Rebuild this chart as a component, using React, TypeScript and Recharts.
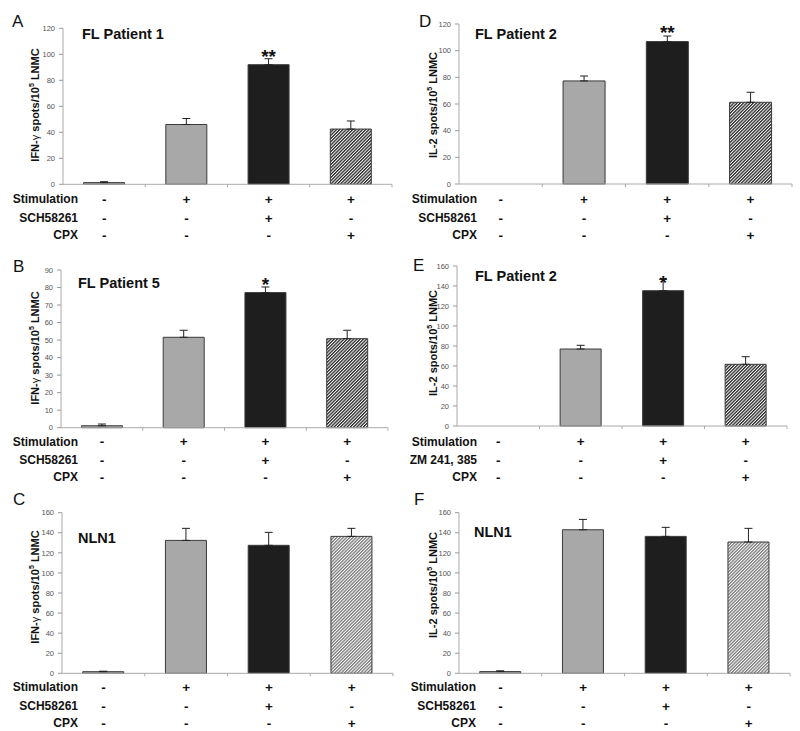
import React from 'react';
import { BarChart, Bar, XAxis, YAxis, ErrorBar, Cell, LabelList } from 'recharts';

// ---- data ----
const categories = ['Control', 'Stim', 'Stim + antagonist', 'Stim + CPX'];
const stimulationRow = ['-', '+', '+', '+'];
const sch58261Row = ['-', '-', '+', '-'];
const zmRow = ['-', '-', '+', '-'];
const cpxRow = ['-', '-', '-', '+'];
const rowLabelsSCH = ['Stimulation', 'SCH58261', 'CPX'];
const rowLabelsZM = ['Stimulation', 'ZM 241, 385', 'CPX'];

const valuesA = [1.3, 46, 92, 42.5];
const errorsA = [0.7, 4.6, 4.6, 6.2];
const starsA = ['', '', '**', ''];
const ticksA = [0, 20, 40, 60, 80, 100, 120];

const valuesB = [1.1, 51.6, 77.1, 50.8];
const errorsB = [1.0, 4.0, 3.2, 4.8];
const starsB = ['', '', '*', ''];
const ticksB = [0, 10, 20, 30, 40, 50, 60, 70, 80, 90];

const valuesC = [1.6, 132.4, 127.5, 136.4];
const errorsC = [0.5, 12, 12.9, 8];
const starsC = ['', '', '', ''];
const ticksC = [0, 20, 40, 60, 80, 100, 120, 140, 160];

const valuesD = [0, 77.3, 106.8, 61.3];
const errorsD = [0, 3.7, 4.2, 7.5];
const starsD = ['', '', '**', ''];
const ticksD = [0, 20, 40, 60, 80, 100, 120];

const valuesE = [0, 77, 135.3, 61.7];
const errorsE = [0, 3.7, 11.4, 7.6];
const starsE = ['', '', '*', ''];
const ticksE = [0, 20, 40, 60, 80, 100, 120, 140, 160];

const valuesF = [1.7, 143, 136.4, 130.8];
const errorsF = [0.8, 10.3, 9, 13.6];
const starsF = ['', '', '', ''];
const ticksF = [0, 20, 40, 60, 80, 100, 120, 140, 160];

const FONT = '"Liberation Sans", Arial, sans-serif';

type PanelCfg = {
  id: string;
  left: number; top: number; w: number; h: number;
  axisX: number; right: number; yTop: number; y0: number;
  values: number[]; errors: number[]; stars: string[]; ticks: number[];
  rows: string[][]; rowLabels: string[]; rowOffsets: number[]; labelRight: number;
  stripe: string;
};

const panels: PanelCfg[] = [
  { id: 'A', left: 0, top: 0, w: 400, h: 250, axisX: 63, right: 392, yTop: 28.3, y0: 184.3,
    values: valuesA, errors: errorsA, stars: starsA, ticks: ticksA,
    rows: [stimulationRow, sch58261Row, cpxRow], rowLabels: rowLabelsSCH, rowOffsets: [15, 34, 51], labelRight: 78, stripe: '#262626' },
  { id: 'B', left: 0, top: 243, w: 400, h: 250, axisX: 61, right: 388, yTop: 27, y0: 184.7,
    values: valuesB, errors: errorsB, stars: starsB, ticks: ticksB,
    rows: [stimulationRow, sch58261Row, cpxRow], rowLabels: rowLabelsSCH, rowOffsets: [14, 32.5, 49.5], labelRight: 78, stripe: '#262626' },
  { id: 'C', left: 0, top: 483, w: 400, h: 248, axisX: 62, right: 393, yTop: 29.7, y0: 190.3,
    values: valuesC, errors: errorsC, stars: starsC, ticks: ticksC,
    rows: [stimulationRow, sch58261Row, cpxRow], rowLabels: rowLabelsSCH, rowOffsets: [14, 33, 50], labelRight: 78, stripe: '#7a7a7a' },
  { id: 'D', left: 400, top: 0, w: 400, h: 250, axisX: 59, right: 392, yTop: 24, y0: 184,
    values: valuesD, errors: errorsD, stars: starsD, ticks: ticksD,
    rows: [stimulationRow, sch58261Row, cpxRow], rowLabels: rowLabelsSCH, rowOffsets: [15, 34, 51], labelRight: 77, stripe: '#262626' },
  { id: 'E', left: 400, top: 243, w: 400, h: 250, axisX: 57, right: 387, yTop: 23, y0: 183,
    values: valuesE, errors: errorsE, stars: starsE, ticks: ticksE,
    rows: [stimulationRow, zmRow, cpxRow], rowLabels: rowLabelsZM, rowOffsets: [15.5, 34, 51], labelRight: 77, stripe: '#262626' },
  { id: 'F', left: 400, top: 483, w: 400, h: 248, axisX: 59, right: 390, yTop: 29.7, y0: 190.3,
    values: valuesF, errors: errorsF, stars: starsF, ticks: ticksF,
    rows: [stimulationRow, sch58261Row, cpxRow], rowLabels: rowLabelsSCH, rowOffsets: [14, 33, 50], labelRight: 76, stripe: '#7a7a7a' },
];

const Panel = ({ cfg }: { cfg: PanelCfg }) => {
  const data = categories.map((c, i) => ({
    name: c,
    value: cfg.values[i],
    err: cfg.errors[i],
    star: cfg.stars[i],
  }));
  const maxTick = cfg.ticks[cfg.ticks.length - 1];
  const fills = ['#a8a8a8', '#a8a8a8', '#1e1e1e', `url(#hatch-${cfg.id})`];

  const renderTick = (props: any) => {
    const { x, y, payload } = props;
    const index = props.index ?? categories.indexOf(payload?.value);
    const off = payload?.offset ?? 0;
    return (
      <g>
        <line x1={x + off} x2={x + off} y1={y} y2={y + 3} stroke="#aaaaaa" strokeWidth={1} />
        {cfg.rows.map((r, i) => (
          <text key={i} x={x} y={y + cfg.rowOffsets[i]} textAnchor="middle" dominantBaseline="central"
            fontFamily={FONT} fontWeight="bold" fontSize={13.5} fill="#111">{r[index]}</text>
        ))}
        {index === 0 && cfg.rowLabels.map((l, i) => (
          <text key={'l' + i} x={cfg.labelRight} y={y + cfg.rowOffsets[i]} textAnchor="end" dominantBaseline="central"
            fontFamily={FONT} fontWeight="bold" fontSize={12} fill="#111">{l}</text>
        ))}
      </g>
    );
  };

  const renderStar = (props: any) => {
    const vb = props.viewBox || {};
    const x = props.x ?? vb.x;
    const y = props.y ?? vb.y;
    const width = props.width ?? vb.width;
    const height = props.height ?? vb.height;
    const { value, index } = props;
    if (!value) return null;
    const v = cfg.values[index];
    const pxPer = v ? Math.abs(height) / v : 0;
    const errTop = y - cfg.errors[index] * pxPer;
    return (
      <text x={x + width / 2} y={errTop + 4.5} textAnchor="middle" fontFamily={FONT}
        fontWeight="bold" fontSize={19} fill="#111">{value}</text>
    );
  };

  return (
    <div style={{ position: 'absolute', left: cfg.left, top: cfg.top, width: cfg.w, height: cfg.h }}>
      <BarChart width={cfg.w} height={cfg.h} data={data} barCategoryGap="25%"
        margin={{ top: cfg.yTop, right: cfg.w - cfg.right, bottom: 0, left: 0 }}>
        <defs>
          <pattern id={`hatch-${cfg.id}`} patternUnits="userSpaceOnUse" width="2.3" height="2.3" patternTransform="rotate(45)">
            <rect x="0" y="0" width="2.3" height="2.3" fill="#ffffff" />
            <rect x="0" y="0" width="1.3" height="2.3" fill={cfg.stripe} />
          </pattern>
        </defs>
        <XAxis dataKey="name" height={cfg.h - cfg.y0} axisLine={{ stroke: '#aaaaaa' }} tickLine={false}
          tickSize={0} tickMargin={0} interval={0} tick={renderTick} />
        <YAxis width={cfg.axisX} domain={[0, maxTick]} ticks={cfg.ticks} interval={0}
          axisLine={{ stroke: '#aaaaaa' }} tickLine={{ stroke: '#999999' }} tickSize={4} tickMargin={4}
          tick={{ fontSize: 7.5, fill: '#555', fontFamily: FONT }} />
        <Bar dataKey="value" stroke="#3a3a3a" strokeWidth={1} isAnimationActive={false}>
          {data.map((d, i) => <Cell key={i} fill={fills[i]} />)}
          <ErrorBar dataKey={(d: any) => [0, d.err]} width={4} stroke="#222" strokeWidth={1} direction="y" isAnimationActive={false} />
          <LabelList dataKey="star" content={renderStar} />
        </Bar>
      </BarChart>
    </div>
  );
};

const letters = [
  { t: 'A', x: 12, y: 27 }, { t: 'B', x: 13, y: 272 }, { t: 'C', x: 13, y: 505 },
  { t: 'D', x: 419, y: 27 }, { t: 'E', x: 413, y: 271 }, { t: 'F', x: 414, y: 505 },
];
const titles = [
  { t: 'FL Patient 1', x: 82, y: 39 }, { t: 'FL Patient 5', x: 78, y: 288 }, { t: 'NLN1', x: 78, y: 543 },
  { t: 'FL Patient 2', x: 475, y: 39 }, { t: 'FL Patient 2', x: 475, y: 281 }, { t: 'NLN1', x: 474, y: 537 },
];
const yLabels = [
  { pre: 'IFN-', g: 'γ', mid: ' spots/10', sup: '5', post: ' LNMC', x: 35, y: 105 },
  { pre: 'IFN-', g: 'γ', mid: ' spots/10', sup: '5', post: ' LNMC', x: 35, y: 348 },
  { pre: 'IFN-', g: 'γ', mid: ' spots/10', sup: '5', post: ' LNMC', x: 35, y: 587 },
  { pre: 'IL-2', g: '', mid: ' spots/10', sup: '5', post: ' LNMC', x: 433, y: 105 },
  { pre: 'IL-2', g: '', mid: ' spots/10', sup: '5', post: ' LNMC', x: 433, y: 343 },
  { pre: 'IL-2', g: '', mid: ' spots/10', sup: '5', post: ' LNMC', x: 433, y: 585 },
];

export default function App() {
  return (
    <div style={{ position: 'absolute', left: 0, top: 0, width: 800, height: 731, background: '#fff', overflow: 'hidden' }}>
      {panels.map((p) => <Panel key={p.id} cfg={p} />)}
      <svg width={800} height={731} style={{ position: 'absolute', left: 0, top: 0, pointerEvents: 'none' }}>
        {letters.map((l, i) => (
          <text key={i} x={l.x} y={l.y} fontFamily={FONT} fontSize={17} fill="#111">{l.t}</text>
        ))}
        {titles.map((l, i) => (
          <text key={i} x={l.x} y={l.y} fontFamily={FONT} fontWeight="bold" fontSize={14.5} fill="#111">{l.t}</text>
        ))}
        {yLabels.map((l, i) => (
          <text key={i} transform={`translate(${l.x},${l.y}) rotate(-90)`} textAnchor="middle" dominantBaseline="central"
            fontFamily={FONT} fontWeight="bold" fontSize={11} fill="#111">
            {l.pre}
            {l.g ? <tspan fontWeight="normal">{l.g}</tspan> : null}
            {l.mid}
            <tspan fontSize={7} dy={-4}>{l.sup}</tspan>
            <tspan dy={4}>{l.post}</tspan>
          </text>
        ))}
      </svg>
    </div>
  );
}
